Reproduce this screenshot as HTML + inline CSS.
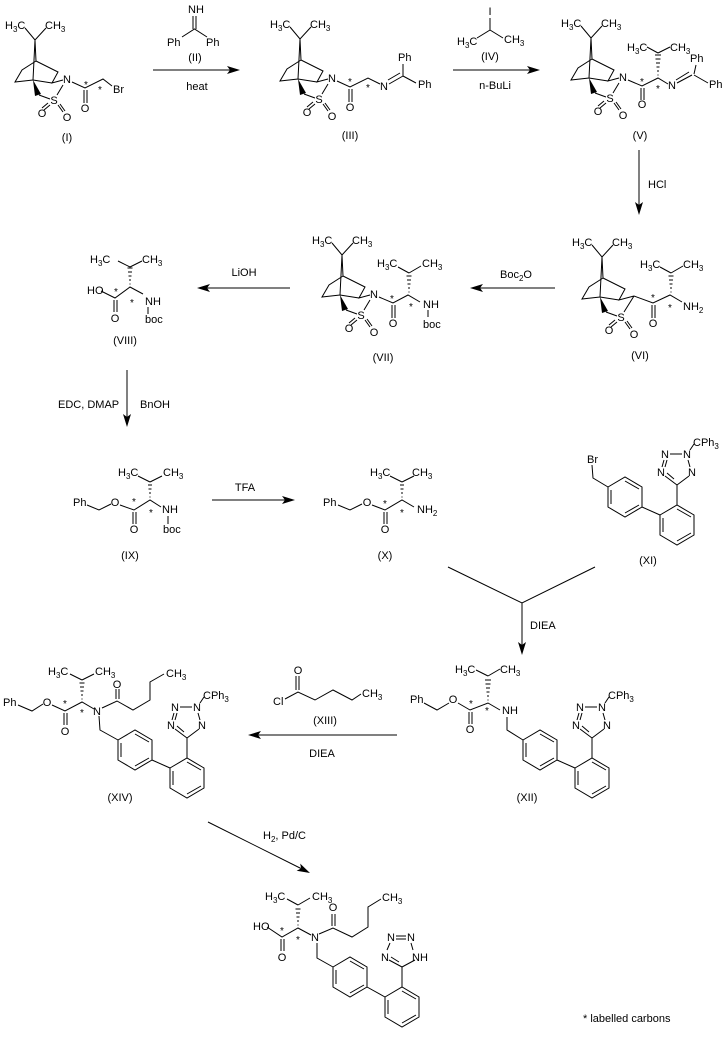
<!DOCTYPE html>
<html><head><meta charset="utf-8">
<style>
html,body{margin:0;padding:0;background:#fff;}
svg{display:block;}
text{font-family:"Liberation Sans",Arial,sans-serif;font-size:11px;fill:#000;}
.sb{font-size:8px;}
.st{font-size:10px;}
.c{text-anchor:middle;}
path{stroke:#000;stroke-width:1;fill:none;}
path.f{fill:#000;stroke:none;}
</style></head><body>
<svg width="725" height="1039" viewBox="0 0 725 1039" xmlns="http://www.w3.org/2000/svg">

<!-- ===== Compound I ===== -->
<g>
<text x="5" y="29">H<tspan class="sb" dy="3">3</tspan><tspan dy="-3">C</tspan></text>
<text x="45" y="29">CH<tspan class="sb" dy="3">3</tspan></text>
<path d="M25 28L35 40L46 28M35 40L33 80M35 40L36 61M36 61L22 70L15 82L33 80L52 83M36 61L58 72L52 83L63 80M39 95L50 99M57 95L63 85M50 105L44 110M48 103L42 108M58 105L63 112M60 104L65 111"/>
<path class="f" d="M33 80L35 96L41 94Z"/>
<text class="c" x="54" y="104">S</text>
<text class="c" x="42" y="117">O</text>
<text class="c" x="67" y="121">O</text>
<text class="c" x="67" y="83">N</text>
</g>
<path d="M72 82L85 88L103 79L112 86M84 90L84 103M87 90L87 103"/>
<text class="st c" x="86" y="88">*</text>
<text class="st c" x="100" y="93">*</text>
<text class="c" x="85" y="112">O</text>
<text x="113" y="93">Br</text>
<text class="c" x="67" y="141">(I)</text>

<!-- Reagent II + arrow 1 -->
<text class="c" x="196" y="13">NH</text>
<path d="M193 16L193 29M196 16L196 29M182 37L194.5 29L207 37"/>
<text x="167" y="46">Ph</text>
<text x="206" y="46">Ph</text>
<text class="c" x="195" y="61">(II)</text>
<path d="M153 70L230 70"/>
<path class="f" d="M240 70L227 66L230 70L227 74Z"/>
<text class="c" x="197" y="90">heat</text>

<!-- ===== Compound III ===== -->
<g transform="translate(265,-1)">
<text x="5" y="29">H<tspan class="sb" dy="3">3</tspan><tspan dy="-3">C</tspan></text>
<text x="45" y="29">CH<tspan class="sb" dy="3">3</tspan></text>
<path d="M25 28L35 40L46 28M35 40L33 80M35 40L36 61M36 61L22 70L15 82L33 80L52 83M36 61L58 72L52 83L63 80M39 95L50 99M57 95L63 85M50 105L44 110M48 103L42 108M58 105L63 112M60 104L65 111"/>
<path class="f" d="M33 80L35 96L41 94Z"/>
<text class="c" x="54" y="104">S</text>
<text class="c" x="42" y="117">O</text>
<text class="c" x="67" y="121">O</text>
<text class="c" x="67" y="83">N</text>
</g>
<path d="M337 81L350 87L368 78L380 84M349 89L349 102M352 89L352 102M389 84L403 76M388 80L400 73M403 76L403 64M403 76L416 83"/>
<text class="st c" x="350" y="85">*</text>
<text class="st c" x="368" y="91">*</text>
<text class="c" x="350" y="111">O</text>
<text class="c" x="384" y="90">N</text>
<text x="398" y="61">Ph</text>
<text x="418" y="88">Ph</text>
<text class="c" x="350" y="139">(III)</text>

<!-- Reagent IV + arrow 2 -->
<text class="c" x="490" y="15">I</text>
<path d="M490 18L490 30L477 38M490 30L503 38"/>
<text x="457" y="45">H<tspan class="sb" dy="3">3</tspan><tspan dy="-3">C</tspan></text>
<text x="504" y="43">CH<tspan class="sb" dy="3">3</tspan></text>
<text class="c" x="490" y="60">(IV)</text>
<path d="M453 70L530 70"/>
<path class="f" d="M540 70L527 66L530 70L527 74Z"/>
<text class="c" x="495" y="89">n-BuLi</text>

<!-- ===== Compound V ===== -->
<g transform="translate(556,-2)">
<text x="5" y="29">H<tspan class="sb" dy="3">3</tspan><tspan dy="-3">C</tspan></text>
<text x="45" y="29">CH<tspan class="sb" dy="3">3</tspan></text>
<path d="M25 28L35 40L46 28M35 40L33 80M35 40L36 61M36 61L22 70L15 82L33 80L52 83M36 61L58 72L52 83L63 80M39 95L50 99M57 95L63 85M50 105L44 110M48 103L42 108M58 105L63 112M60 104L65 111"/>
<path class="f" d="M33 80L35 96L41 94Z"/>
<text class="c" x="54" y="104">S</text>
<text class="c" x="42" y="117">O</text>
<text class="c" x="67" y="121">O</text>
<text class="c" x="67" y="83">N</text>
</g>
<path d="M628 80L642 86L658 78L668 84M641 88L641 100M644 88L644 100M677 83L692 75M676 80L689 72M694 74L696 65M694 75L708 83M658 53L647 47M658 53L670 47"/>
<path d="M657.5 75h1M657 71h2M656.5 67h3M656 63h4M655.5 59h5M655 55h6"/>
<text class="st c" x="642" y="85">*</text>
<text class="st c" x="658" y="92">*</text>
<text class="c" x="642" y="108">O</text>
<text class="c" x="672" y="89">N</text>
<text x="627" y="51">H<tspan class="sb" dy="3">3</tspan><tspan dy="-3">C</tspan></text>
<text x="670" y="51">CH<tspan class="sb" dy="3">3</tspan></text>
<text x="690" y="62">Ph</text>
<text x="709" y="88">Ph</text>
<text class="c" x="640" y="139">(V)</text>

<!-- HCl arrow -->
<path d="M639 150L639 205"/>
<path class="f" d="M639 215L635 202L639 205L643 202Z"/>
<text x="648" y="188">HCl</text>

<!-- ===== Compound VI ===== -->
<g transform="translate(567,217)">
<text x="5" y="29">H<tspan class="sb" dy="3">3</tspan><tspan dy="-3">C</tspan></text>
<text x="45" y="29">CH<tspan class="sb" dy="3">3</tspan></text>
<path d="M25 28L35 40L46 28M35 40L33 80M35 40L36 61M36 61L22 70L15 82L33 80L52 83M36 61L58 72L52 83L67 79M39 95L50 99M57 95L67 79M50 105L44 110M48 103L42 108M58 105L63 112M60 104L65 111"/>
<path class="f" d="M33 80L35 96L41 94Z"/>
<text class="c" x="54" y="104">S</text>
<text class="c" x="42" y="117">O</text>
<text class="c" x="67" y="121">O</text>
</g>
<path d="M634 296L653 303L670 295L682 302M652 305L652 318M655 305L655 318M671 273L660 267M671 273L683 266"/>
<path d="M670.5 292h1M670 288h2M669.5 284h3M669 280h4M668.5 276h5"/>
<text class="st c" x="653" y="301">*</text>
<text class="st c" x="670" y="311">*</text>
<text class="c" x="653" y="327">O</text>
<text x="683" y="310">NH<tspan class="sb" dy="3">2</tspan></text>
<text x="640" y="268">H<tspan class="sb" dy="3">3</tspan><tspan dy="-3">C</tspan></text>
<text x="683" y="268">CH<tspan class="sb" dy="3">3</tspan></text>
<text class="c" x="640" y="359">(VI)</text>

<!-- Boc2O arrow -->
<path d="M555 288L480 288"/>
<path class="f" d="M470 288L483 284L480 288L483 292Z"/>
<text x="500" y="278">Boc<tspan class="sb" dy="3">2</tspan><tspan dy="-3">O</tspan></text>

<!-- ===== Compound VII ===== -->
<g transform="translate(307,215)">
<text x="5" y="29">H<tspan class="sb" dy="3">3</tspan><tspan dy="-3">C</tspan></text>
<text x="45" y="29">CH<tspan class="sb" dy="3">3</tspan></text>
<path d="M25 28L35 40L46 28M35 40L33 80M35 40L36 61M36 61L22 70L15 82L33 80L52 83M36 61L58 72L52 83L63 80M39 95L50 99M57 95L63 85M50 105L44 110M48 103L42 108M58 105L63 112M60 104L65 111"/>
<path class="f" d="M33 80L35 96L41 94Z"/>
<text class="c" x="54" y="104">S</text>
<text class="c" x="42" y="117">O</text>
<text class="c" x="67" y="121">O</text>
<text class="c" x="67" y="83">N</text>
</g>
<path d="M379 297L393 303L408 295L420 302M392 305L392 318M395 305L395 318M428 310L428 317M409 273L398 267M409 273L421 266"/>
<path d="M408.5 292h1M408 288h2M407.5 284h3M407 280h4M406.5 276h5"/>
<text class="st c" x="392" y="302">*</text>
<text class="st c" x="411" y="310">*</text>
<text class="c" x="393" y="327">O</text>
<text x="423" y="308">NH</text>
<text x="423" y="328">boc</text>
<text x="377" y="267">H<tspan class="sb" dy="3">3</tspan><tspan dy="-3">C</tspan></text>
<text x="422" y="267">CH<tspan class="sb" dy="3">3</tspan></text>
<text class="c" x="383" y="361">(VII)</text>

<!-- LiOH arrow -->
<path d="M290 288L207 288"/>
<path class="f" d="M197 288L210 284L207 288L210 292Z"/>
<text class="c" x="244" y="276">LiOH</text>

<!-- ===== Compound VIII ===== -->
<path d="M101 291L115 298L130 287L143 294M114 300L114 312M117 300L117 312M148 307L148 314M130 267L118 261M130 267L142 261"/>
<path d="M129.5 284h1M129 280h2M128.5 276h3M128 272h4M127.5 268h5"/>
<text x="87" y="294">HO</text>
<text class="st c" x="116" y="295">*</text>
<text class="st c" x="132" y="306">*</text>
<text class="c" x="115" y="322">O</text>
<text x="145" y="305">NH</text>
<text x="145" y="323">boc</text>
<text x="90" y="263">H<tspan class="sb" dy="3">3</tspan><tspan dy="-3">C</tspan></text>
<text x="142" y="263">CH<tspan class="sb" dy="3">3</tspan></text>
<text class="c" x="125" y="344">(VIII)</text>

<!-- down arrow EDC -->
<path d="M127 370L127 417"/>
<path class="f" d="M127 427L123 414L127 417L131 414Z"/>
<text x="58" y="408">EDC, DMAP</text>
<text x="140" y="408">BnOH</text>

<!-- ===== Compound IX ===== -->
<path d="M87 505L99 510L111 504M120 505L134 510L150 500L161 507M133 512L133 524M136 512L136 524M168 516L168 524M150 482L138 476M150 482L162 476"/>
<path d="M149.5 497h1M149 493h2M148.5 489h3M148 485h4"/>
<text x="73" y="506">Ph</text>
<text class="c" x="115" y="506">O</text>
<text class="st c" x="134" y="505">*</text>
<text class="st c" x="151" y="516">*</text>
<text class="c" x="134" y="533">O</text>
<text x="162" y="513">NH</text>
<text x="163" y="533">boc</text>
<text x="118" y="476">H<tspan class="sb" dy="3">3</tspan><tspan dy="-3">C</tspan></text>
<text x="163" y="476">CH<tspan class="sb" dy="3">3</tspan></text>
<text class="c" x="130" y="559">(IX)</text>

<!-- TFA arrow -->
<path d="M212 500L285 500"/>
<path class="f" d="M295 500L282 496L285 500L282 504Z"/>
<text class="c" x="245" y="491">TFA</text>

<!-- ===== Compound X ===== -->
<path d="M338 505L350 510L362 504M372 505L385 510L402 500L414 507M384 512L384 524M387 512L387 524M402 482L390 476M402 482L414 476"/>
<path d="M401.5 497h1M401 493h2M400.5 489h3M400 485h4"/>
<text x="323" y="506">Ph</text>
<text class="c" x="367" y="506">O</text>
<text class="st c" x="385" y="507">*</text>
<text class="st c" x="402" y="516">*</text>
<text class="c" x="385" y="533">O</text>
<text x="417" y="513">NH<tspan class="sb" dy="3">2</tspan></text>
<text x="370" y="476">H<tspan class="sb" dy="3">3</tspan><tspan dy="-3">C</tspan></text>
<text x="412" y="476">CH<tspan class="sb" dy="3">3</tspan></text>
<text class="c" x="385" y="559">(X)</text>

<!-- ===== Compound XI ===== -->
<text x="587" y="463">Br</text>
<path d="M592 465L593 478L608 487"/>
<g transform="translate(608,487)">
<path d="M0 0L17 -10L34 0L34 20L17 30L0 20Z M3 3L3 17 M17 -6L31 2 M31 18L17 26 M34 20L52 28 M52 28L69 18L86 28L86 48L69 58L52 48Z M55 31L55 45 M69 22L83 30 M83 46L69 54 M69 18L69 -2"/>
</g>
<g transform="translate(677,485)">
<text class="c" x="-12" y="-27">N</text>
<text class="c" x="10" y="-27">N</text>
<text class="c" x="-16" y="-9">N</text>
<text class="c" x="15" y="-9">N</text>
<path d="M-7 -31L5 -31M-13 -25L-15 -18M-10 -25L-12 -18M11 -25L13 -18M-12 -9L0 0M-10 -12L-3 -6M12 -9L0 0M13 -35L17 -41"/>
<text x="16" y="-39">CPh<tspan class="sb" dy="3">3</tspan></text>
</g>
<text class="c" x="648" y="564">(XI)</text>

<!-- merge arrow DIEA -->
<path d="M448 567L522 603L595 567M522 603L522 645"/>
<path class="f" d="M522 655L518 642L522 645L526 642Z"/>
<text x="530" y="629">DIEA</text>

<!-- ===== Compound XII ===== -->
<path d="M424 703L437 710L449 703M458 703L470 710L488 703L500 710M469 712L469 724M472 712L472 724M507 717L507 730L523 740M488 676L476 670M488 676L500 669"/>
<path d="M487.5 700h1M487 696h2M486.5 692h3M486 688h4M485.5 684h5M485 680h6"/>
<text x="410" y="703">Ph</text>
<text class="c" x="453" y="703">O</text>
<text class="st c" x="471" y="707">*</text>
<text class="st c" x="487" y="714">*</text>
<text class="c" x="470" y="733">O</text>
<text x="502" y="714">NH</text>
<text x="455" y="673">H<tspan class="sb" dy="3">3</tspan><tspan dy="-3">C</tspan></text>
<text x="500" y="673">CH<tspan class="sb" dy="3">3</tspan></text>
<g transform="translate(523,740)">
<path d="M0 0L17 -10L34 0L34 20L17 30L0 20Z M3 3L3 17 M17 -6L31 2 M31 18L17 26 M34 20L52 28 M52 28L69 18L86 28L86 48L69 58L52 48Z M55 31L55 45 M69 22L83 30 M83 46L69 54 M69 18L69 -2"/>
</g>
<g transform="translate(592,738)">
<text class="c" x="-12" y="-27">N</text>
<text class="c" x="10" y="-27">N</text>
<text class="c" x="-16" y="-9">N</text>
<text class="c" x="15" y="-9">N</text>
<path d="M-7 -31L5 -31M-13 -25L-15 -18M-10 -25L-12 -18M11 -25L13 -18M-12 -9L0 0M-10 -12L-3 -6M12 -9L0 0M13 -35L17 -41"/>
<text x="16" y="-39">CPh<tspan class="sb" dy="3">3</tspan></text>
</g>
<text class="c" x="527" y="801">(XII)</text>

<!-- ===== XIII + DIEA arrow ===== -->
<path d="M296 676L296 690M299 676L299 690M285 699L298 692L315 700L333 690L352 700L361 694"/>
<text class="c" x="298" y="674">O</text>
<text x="273" y="705">Cl</text>
<text x="362" y="697">CH<tspan class="sb" dy="3">3</tspan></text>
<text class="c" x="325" y="724">(XIII)</text>
<path d="M397 735L258 735"/>
<path class="f" d="M248 735L261 731L258 735L261 739Z"/>
<text class="c" x="322" y="757">DIEA</text>

<!-- ===== Compound XIV ===== -->
<path d="M18 705L32 711L43 704M52 705L65 711L82 702L94 709M64 713L64 725M67 713L67 725M102 708L117 701L133 710L150 700L150 682L164 674M116 699L116 689M119 699L119 689M99 716L100 730L118 740M82 680L70 674M82 680L94 674"/>
<path d="M81.5 699h1M81 695h2M80.5 691h3M80 687h4M79.5 683h5"/>
<text x="3" y="706">Ph</text>
<text class="c" x="47" y="706">O</text>
<text class="st c" x="65" y="707">*</text>
<text class="st c" x="82" y="716">*</text>
<text class="c" x="65" y="735">O</text>
<text class="c" x="97" y="715">N</text>
<text class="c" x="117" y="688">O</text>
<text x="48" y="675">H<tspan class="sb" dy="3">3</tspan><tspan dy="-3">C</tspan></text>
<text x="95" y="675">CH<tspan class="sb" dy="3">3</tspan></text>
<text x="166" y="677">CH<tspan class="sb" dy="3">3</tspan></text>
<g transform="translate(118,740)">
<path d="M0 0L17 -10L34 0L34 20L17 30L0 20Z M3 3L3 17 M17 -6L31 2 M31 18L17 26 M34 20L52 28 M52 28L69 18L86 28L86 48L69 58L52 48Z M55 31L55 45 M69 22L83 30 M83 46L69 54 M69 18L69 -2"/>
</g>
<g transform="translate(187,738)">
<text class="c" x="-12" y="-27">N</text>
<text class="c" x="10" y="-27">N</text>
<text class="c" x="-16" y="-9">N</text>
<text class="c" x="15" y="-9">N</text>
<path d="M-7 -31L5 -31M-13 -25L-15 -18M-10 -25L-12 -18M11 -25L13 -18M-12 -9L0 0M-10 -12L-3 -6M12 -9L0 0M13 -35L17 -41"/>
<text x="16" y="-39">CPh<tspan class="sb" dy="3">3</tspan></text>
</g>
<text class="c" x="120" y="801">(XIV)</text>

<!-- H2 Pd/C arrow -->
<path d="M208 822L301 868.5"/>
<path class="f" d="M310 873L296.6 870.8L301.1 868.5L300.2 863.6Z"/>
<text x="263" y="839">H<tspan class="sb" dy="3">2</tspan><tspan dy="-3">, Pd/C</tspan></text>

<!-- ===== Final product ===== -->
<path d="M267 927L282 937L298 928L311 935M281 939L281 951M284 939L284 951M319 934L333 928L352 937L368 927L368 907L381 899M332 926L332 914M335 926L335 914M317 943L317 958L333 967M298 905L287 899M298 905L310 898"/>
<path d="M297.5 925h1M297 921h2M296.5 917h3M296 913h4M295.5 909h5"/>
<text x="253" y="930">HO</text>
<text class="st c" x="282" y="934">*</text>
<text class="st c" x="298" y="943">*</text>
<text class="c" x="282" y="961">O</text>
<text class="c" x="315" y="941">N</text>
<text class="c" x="333" y="911">O</text>
<text x="265" y="900">H<tspan class="sb" dy="3">3</tspan><tspan dy="-3">C</tspan></text>
<text x="312" y="900">CH<tspan class="sb" dy="3">3</tspan></text>
<text x="382" y="901">CH<tspan class="sb" dy="3">3</tspan></text>
<g transform="translate(333,967)">
<path d="M0 0L17 -10L34 0L34 20L17 30L0 20Z M3 3L3 17 M17 -6L31 2 M31 18L17 26 M34 20L52 30 M52 30L69 20L86 30L86 50L69 60L52 50Z M55 33L55 47 M69 24L83 32 M83 48L69 56 M69 20L69 0"/>
</g>
<g transform="translate(402,967)">
<text class="c" x="-11" y="-26">N</text>
<text class="c" x="9" y="-26">N</text>
<text class="c" x="-17" y="-6">N</text>
<text x="10" y="-6">NH</text>
<path d="M-6 -31L4 -31M-6 -28L4 -28M-12 -24L-15 -17M9 -24L11 -17M-13 -7L0 0M-11 -10L-3 -5M13 -7L0 0"/>
</g>

<text x="583" y="1022">* labelled carbons</text>
</svg>
</body></html>
